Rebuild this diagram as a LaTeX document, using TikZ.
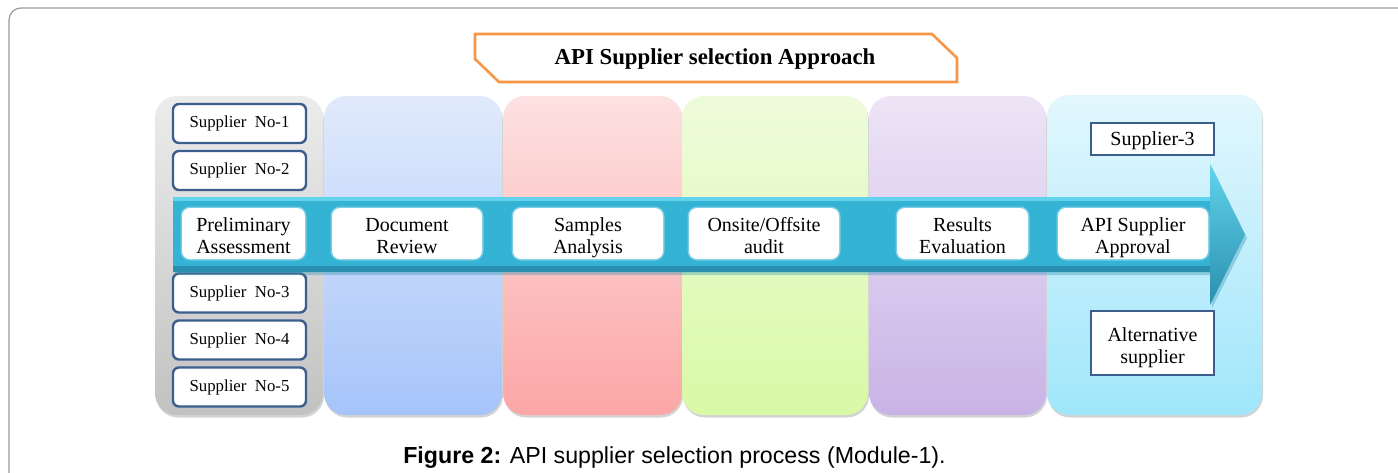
\documentclass[tikz,border=0pt]{standalone}
\usepackage{fontspec}
\setmainfont{Liberation Serif}
\newfontfamily\capfont{Liberation Sans}
\usetikzlibrary{shadows}
\definecolor{frameg}{HTML}{9A9A9A}
\definecolor{suppb}{HTML}{3B5E8C}
\definecolor{orng}{HTML}{F79646}
\definecolor{arrT}{HTML}{62D3EC}
\definecolor{arrM}{HTML}{35B3D5}
\definecolor{arrB}{HTML}{2A8FAE}
\begin{document}
\begin{tikzpicture}[x=1pt,y=-1pt,
  col/.style={rounded corners=22pt, inner sep=0pt,
    drop shadow={opacity=0.35, shadow xshift=1pt, shadow yshift=-2.5pt}},
  supp/.style={draw=suppb, line width=2.4pt, rounded corners=6pt, fill=white,
    minimum width=133pt, minimum height=39pt, inner sep=0pt,
    font=\fontsize{16.8}{20}\selectfont},
  stagebox/.style={fill=white, rounded corners=8pt, minimum height=51pt, inner sep=0pt,
    draw=white, draw opacity=0.35, line width=3pt},
  boxtext/.style={font=\fontsize{20}{22}\selectfont, align=center, inner sep=0pt, yshift=-5pt},
  outbox/.style={draw=suppb, line width=2.4pt, fill=white, minimum width=123pt,
    inner sep=0pt}
]
\useasboundingbox (0,0) rectangle (1398,472);
\begin{scope}
\clip (0,0) rectangle (1398,472);
\draw[frameg, line width=1.2pt, rounded corners=12pt] (9,500) -- (9,8) -- (1420,8);
\end{scope}

% title
\draw[orng, line width=2.6pt, fill=white] (475,34) -- (932,34) -- (957,58) -- (957,82) -- (499,82) -- (475,59) -- cycle;
\node[font=\fontsize{22.8}{26}\selectfont\bfseries] (title) at (715,59) {API Supplier selection Approach};

% columns
\node[col, top color={rgb,255:red,236;green,236;blue,236}, bottom color={rgb,255:red,194;green,194;blue,194},
  minimum width=168pt, minimum height=319pt] (c1) at (239,255.5) {};
\node[col, top color={rgb,255:red,225;green,234;blue,251}, bottom color={rgb,255:red,166;green,196;blue,250},
  minimum width=178pt, minimum height=319pt] (c2) at (413,255.5) {};
\node[col, top color={rgb,255:red,253;green,225;blue,225}, bottom color={rgb,255:red,252;green,166;blue,166},
  minimum width=179pt, minimum height=319pt] (c3) at (592.5,255.5) {};
\node[col, top color={rgb,255:red,238;green,251;blue,220}, bottom color={rgb,255:red,218;green,249;blue,166},
  minimum width=186pt, minimum height=319pt] (c4) at (775,255.5) {};
\node[col, top color={rgb,255:red,237;green,229;blue,246}, bottom color={rgb,255:red,201;green,179;blue,230},
  minimum width=177pt, minimum height=319pt] (c5) at (957.5,255.5) {};
\node[col, top color={rgb,255:red,226;green,247;blue,253}, bottom color={rgb,255:red,160;green,230;blue,251},
  minimum width=215pt, minimum height=320pt] (c6) at (1154.5,255) {};

% suppliers
\node[supp] (s1) at (239.5,123.5) {Supplier\ \ No-1};
\node[supp] (s2) at (239.5,170.5) {Supplier\ \ No-2};
\node[supp] (s3) at (239.5,293) {Supplier\ \ No-3};
\node[supp] (s4) at (239.5,340) {Supplier\ \ No-4};
\node[supp] (s5) at (239.5,387) {Supplier\ \ No-5};

% arrow
\fill[arrB, opacity=0.35] (175,200) -- (1212,200) -- (1212,167) -- (1247,238) -- (1212,308) -- (1212,275) -- (175,275) -- cycle;
\shade[top color=arrT, middle color=arrM, bottom color=arrB]
  (173,197) -- (1210,197) -- (1210,164) -- (1245,234.5) -- (1210,305) -- (1210,272) -- (173,272) -- cycle;
\fill[arrM] (173,201) rectangle (1210,266);
\fill[arrT] (173,197) rectangle (1210,201);
\fill[arrB] (173,266) rectangle (1210,272);

% stages
\node[stagebox, minimum width=123pt, label={[boxtext]center:{Preliminary\strut\\Assessment\strut}}] (p1) at (243.5,233.5) {};
\node[stagebox, minimum width=150pt, label={[boxtext]center:{Document\strut\\Review\strut}}] (p2) at (407,233.5) {};
\node[stagebox, minimum width=150pt, label={[boxtext]center:{Samples\strut\\Analysis\strut}}] (p3) at (588,233.5) {};
\node[stagebox, minimum width=150pt, label={[boxtext]center:{Onsite/Offsite\strut\\audit\strut}}] (p4) at (764,233.5) {};
\node[stagebox, minimum width=131pt, label={[boxtext]center:{Results\strut\\Evaluation\strut}}] (p5) at (962.5,233.5) {};
\node[stagebox, minimum width=150pt, label={[boxtext]center:{API Supplier\strut\\Approval\strut}}] (p6) at (1133,233.5) {};

% outcomes
\node[outbox, minimum height=32pt, label={[boxtext, yshift=2.5pt]center:{Supplier-3\strut}}] (o1) at (1152.5,139) {};
\node[outbox, minimum height=64pt, label={[boxtext]center:{Alternative\strut\\supplier\strut}}] (o2) at (1152.5,343) {};

% caption
\node[font=\capfont\fontsize{23.2}{26}\selectfont] (cap) at (674.5,458) {\textbf{Figure 2:} API supplier selection process (Module-1).};
\end{tikzpicture}
\end{document}
